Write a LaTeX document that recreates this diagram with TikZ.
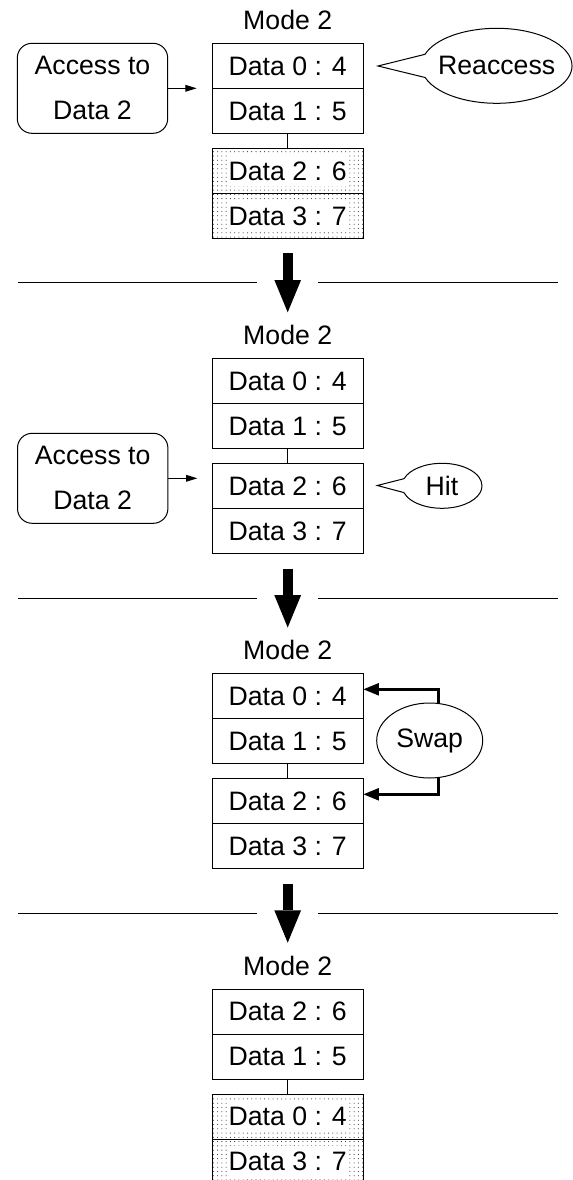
\documentclass[tikz,border=0pt]{standalone}
\usepackage{fontspec}
\setmainfont{Liberation Sans}
\usetikzlibrary{arrows.meta,patterns.meta,shapes.geometric,shapes.callouts,calc}

\tikzset{every picture/.style={line width=0.75pt}}
\tikzset{
	every node/.style={font=\fontsize{20}{33.75}\selectfont},
	cell/.style={draw, rectangle, minimum width=113pt, minimum height=33.75pt, inner sep=0pt},
	dotcell/.style={cell, pattern={Dots[distance=3.2pt, radius=0.4pt]}, pattern color=black!85},
	celltext/.style={fill=white, inner xsep=1.5pt, inner ysep=0pt, minimum height=23.25pt},
	accbox/.style={draw, rectangle, rounded corners=11pt, minimum width=112.8pt, minimum height=67.5pt, inner sep=0pt, align=center},
	bubble/.style={draw, ellipse callout, inner sep=-5pt, callout pointer arc=36},
	thinarrow/.style={-{Triangle[length=8.5pt, width=5pt]}},
	fatarrow/.style={line width=7.5pt, -{Triangle[length=24.2pt, width=20pt, line width=0pt]}},
	swaparrow/.style={line width=2.25pt, -{Triangle[length=11.5pt, width=9.5pt, line width=0pt]}}
}

\begin{document}
\begin{tikzpicture}[x=0.75pt,y=0.75pt,yscale=-1,xscale=1]
	\useasboundingbox (0,0) rectangle (573,1180);

	%----- step 1: access to Data 2, reaccess
	% Text Node
	\draw (287.7,20) node (t1) {Mode 2};
	%Shape: Rectangle
	\draw (287.7,66) node (a1) [cell] {Data 0 : 4};
	\draw (287.7,111) node (a2) [cell] {Data 1 : 5};
	\draw (287.7,171) node (a3) [dotcell] {};
	\draw (a3) node (a3t) [celltext] {Data 2 : 6};
	\draw (287.7,216) node (a4) [dotcell] {};
	\draw (a4) node (a4t) [celltext] {Data 3 : 7};
	%Straight Lines
	\draw (a2) -- (a3);
	%Rounded Rect
	\draw (92.5,88.3) node (acc1) [accbox] {Access to\\Data 2};
	\coordinate (acc1e) at (196.7,88.3);
	\draw [thinarrow] (acc1) -- (acc1e);
	%Callout
	\coordinate (reacctip) at (378,66);
	\draw (496.7,65.8) node (reacc) [bubble, minimum width=113pt, minimum height=56.25pt, callout absolute pointer={(reacctip)}] {Reaccess};

	%Straight Lines
	\draw (17.5,283) -- (257,283);
	\draw (318,283) -- (558,283);
	\coordinate (s1a) at (287.7,253.3);
	\coordinate (s1b) at (287.7,312.3);
	\draw [fatarrow] (s1a) -- (s1b);

	%----- step 2: hit
	% Text Node
	\draw (287.7,335.2) node (t2) {Mode 2};
	%Shape: Rectangle
	\draw (287.7,381.2) node (b1) [cell] {Data 0 : 4};
	\draw (287.7,426.2) node (b2) [cell] {Data 1 : 5};
	\draw (287.7,486.2) node (b3) [cell] {Data 2 : 6};
	\draw (287.7,531.2) node (b4) [cell] {Data 3 : 7};
	%Straight Lines
	\draw (b2) -- (b3);
	%Rounded Rect
	\draw (92.7,478.3) node (acc2) [accbox] {Access to\\Data 2};
	\coordinate (acc2e) at (197.4,478.3);
	\draw [thinarrow] (acc2) -- (acc2e);
	%Callout
	\coordinate (hittip) at (377.3,485.5);
	\draw (442,485.8) node (hit) [bubble, minimum width=60pt, minimum height=33.75pt, callout absolute pointer={(hittip)}] {Hit};

	%Straight Lines
	\draw (17.5,598.2) -- (257,598.2);
	\draw (318,598.2) -- (558,598.2);
	\coordinate (s2a) at (287.7,568.5);
	\coordinate (s2b) at (287.7,627.5);
	\draw [fatarrow] (s2a) -- (s2b);

	%----- step 3: swap
	% Text Node
	\draw (287.7,650.4) node (t3) {Mode 2};
	%Shape: Rectangle
	\draw (287.7,696.4) node (c1) [cell] {Data 0 : 4};
	\draw (287.7,741.4) node (c2) [cell] {Data 1 : 5};
	\draw (287.7,801.4) node (c3) [cell] {Data 2 : 6};
	\draw (287.7,846.4) node (c4) [cell] {Data 3 : 7};
	%Straight Lines
	\draw (c2) -- (c3);
	%Shape: Ellipse
	\draw (429.7,740.5) node (swap) [draw, ellipse, inner sep=0pt, minimum width=79.5pt, minimum height=56.25pt] {Swap};
	\draw [swaparrow] (swap.77) |- ($(c1.east)+(0,-7.1)$);
	\draw [swaparrow] (swap.-77) |- ($(c3.east)+(0,-7.1)$);

	%Straight Lines
	\draw (17.5,913.4) -- (257,913.4);
	\draw (318,913.4) -- (558,913.4);
	\coordinate (s3a) at (287.7,883.7);
	\coordinate (s3b) at (287.7,942.7);
	\draw [fatarrow] (s3a) -- (s3b);

	%----- step 4: after swap
	% Text Node
	\draw (287.7,965.6) node (t4) {Mode 2};
	%Shape: Rectangle
	\draw (287.7,1011.6) node (d1) [cell] {Data 2 : 6};
	\draw (287.7,1056.6) node (d2) [cell] {Data 1 : 5};
	\draw (287.7,1116.6) node (d3) [dotcell] {};
	\draw (d3) node (d3t) [celltext] {Data 0 : 4};
	\draw (287.7,1161.6) node (d4) [dotcell] {};
	\draw (d4) node (d4t) [celltext] {Data 3 : 7};
	%Straight Lines
	\draw (d2) -- (d3);

\end{tikzpicture}
\end{document}
